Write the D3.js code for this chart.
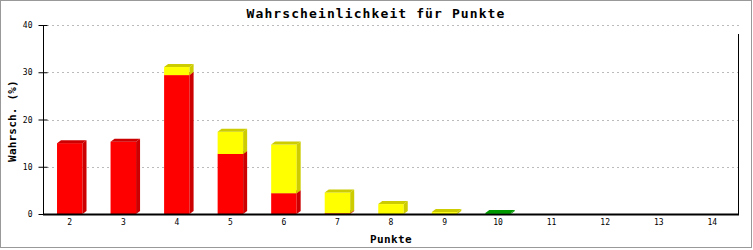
<!DOCTYPE html>
<html>
<head>
<meta charset="utf-8">
<script src="https://cdn.jsdelivr.net/npm/d3@7/dist/d3.min.js"></script>
<style>
  body { margin: 0; background: #fff; }
  text { font-family: "DejaVu Sans Mono", "Liberation Mono", monospace; fill: #000; }
</style>
</head>
<body>
<svg id="chart" width="753" height="250"></svg>
<script>
const categories = ["2", "3", "4", "5", "6", "7", "8", "9", "10", "11", "12", "13", "14"];
const redValues = [15.0, 15.3, 29.4, 12.7, 4.4, 0.15, 0, 0, 0, 0, 0, 0, 0];
const yellowValues = [0, 0, 1.7, 4.7, 10.3, 4.4, 2.1, 0.4, 0, 0, 0, 0, 0];
const greenValues = [0, 0, 0, 0, 0, 0, 0, 0, 0.2, 0, 0, 0, 0];
const yTicks = [0, 10, 20, 30, 40];

const svg = d3.select("#chart");
const plotLeft = 43, plotRight = 739, plotTop = 25, plotBottom = 214;
const depthX = 4, depthY = 3;

const colors = {
    red: {front: "#ff0000", dark: "#cc0000"},
    yellow: {front: "#ffff00", dark: "#cccc00"},
    green: {front: "#00cc00", dark: "#009900"}
};

// outer frame
svg.append("rect")
    .attr("x", 0.5).attr("y", 0.5)
    .attr("width", 751).attr("height", 247)
    .attr("fill", "#fff")
    .attr("stroke", "#999");

const xScale = d3.scaleBand().domain(categories).range([plotLeft, plotRight]);
const yScale = d3.scaleLinear().domain([0, 40]).range([plotBottom, plotTop]);

// grid
svg.append("g")
    .selectAll("line")
    .data(yTicks.filter(t => t > 0))
    .enter().append("line")
    .attr("x1", plotLeft + 4).attr("x2", plotRight)
    .attr("y1", d => Math.round(yScale(d)) + 0.5)
    .attr("y2", d => Math.round(yScale(d)) + 0.5)
    .attr("stroke", "#bbb")
    .attr("stroke-dasharray", "2,3")
    .attr("shape-rendering", "crispEdges");

// stacked bars
const table = categories.map((c, i) => ({name: c, red: redValues[i], yellow: yellowValues[i], green: greenValues[i]}));
const stack = d3.stack().keys(["red", "yellow", "green"]);
const series = stack(table);

const barW = 25.5;
const bars = svg.append("g");
categories.forEach((c, i) => {
    const x0 = xScale(c) + xScale.bandwidth() / 2 - barW / 2;
    const x1 = x0 + barW;
    series.forEach(s => {
        const seg = s[i];
        if (seg[1] - seg[0] <= 0) return;
        const col = colors[s.key];
        const yb = yScale(seg[0]), yt = yScale(seg[1]);
        bars.append("rect")
            .attr("x", x0).attr("y", yt)
            .attr("width", barW).attr("height", yb - yt)
            .attr("fill", col.front);
        bars.append("path")
            .attr("d", `M${x1},${yb}L${x1 + depthX},${yb - depthY}L${x1 + depthX},${yt - depthY}L${x1},${yt}Z`)
            .attr("fill", col.dark);
        bars.append("path")
            .attr("d", `M${x0},${yt}L${x0 + depthX},${yt - depthY}L${x1 + depthX},${yt - depthY}L${x1},${yt}Z`)
            .attr("fill", col.dark);
    });
});

// axes
const yAxis = svg.append("g").attr("transform", `translate(${plotLeft + 0.5},0)`)
    .call(d3.axisLeft(yScale).tickValues(yTicks).tickSize(5).tickPadding(6));
yAxis.select(".domain").attr("d", `M0,${plotTop}V${plotBottom}`).attr("stroke", "#000");
yAxis.selectAll(".tick line").attr("x1", -5).attr("x2", 4).attr("stroke", "#000");
yAxis.selectAll(".tick text").attr("font-size", 8).attr("font-family", "DejaVu Sans Mono").attr("fill", "#000");

const xAxis = svg.append("g").attr("transform", `translate(0,${plotBottom})`)
    .call(d3.axisBottom(xScale).tickSize(0).tickPadding(5));
xAxis.select(".domain").attr("d", `M${plotLeft},0.5H${plotRight}`).attr("stroke", "#000").attr("stroke-width", 2);
xAxis.selectAll(".tick text").attr("font-size", 8).attr("font-family", "DejaVu Sans Mono").attr("fill", "#000");

// right border line
svg.append("line")
    .attr("x1", plotRight - 0.5).attr("x2", plotRight - 0.5)
    .attr("y1", 34).attr("y2", plotBottom)
    .attr("stroke", "#000");

// titles
svg.append("text")
    .attr("x", 376).attr("y", 18)
    .attr("text-anchor", "middle")
    .attr("font-size", 13).attr("font-weight", "bold")
    .attr("letter-spacing", 1.1)
    .text("Wahrscheinlichkeit für Punkte");

svg.append("text")
    .attr("x", 391).attr("y", 243)
    .attr("text-anchor", "middle")
    .attr("font-size", 11).attr("font-weight", "bold")
    .attr("letter-spacing", 0.4)
    .text("Punkte");

svg.append("text")
    .attr("transform", "translate(16,121) rotate(-90)")
    .attr("text-anchor", "middle")
    .attr("font-size", 11).attr("font-weight", "bold")
    .attr("letter-spacing", 0.2)
    .text("Wahrsch. (%)");
</script>
</body>
</html>
